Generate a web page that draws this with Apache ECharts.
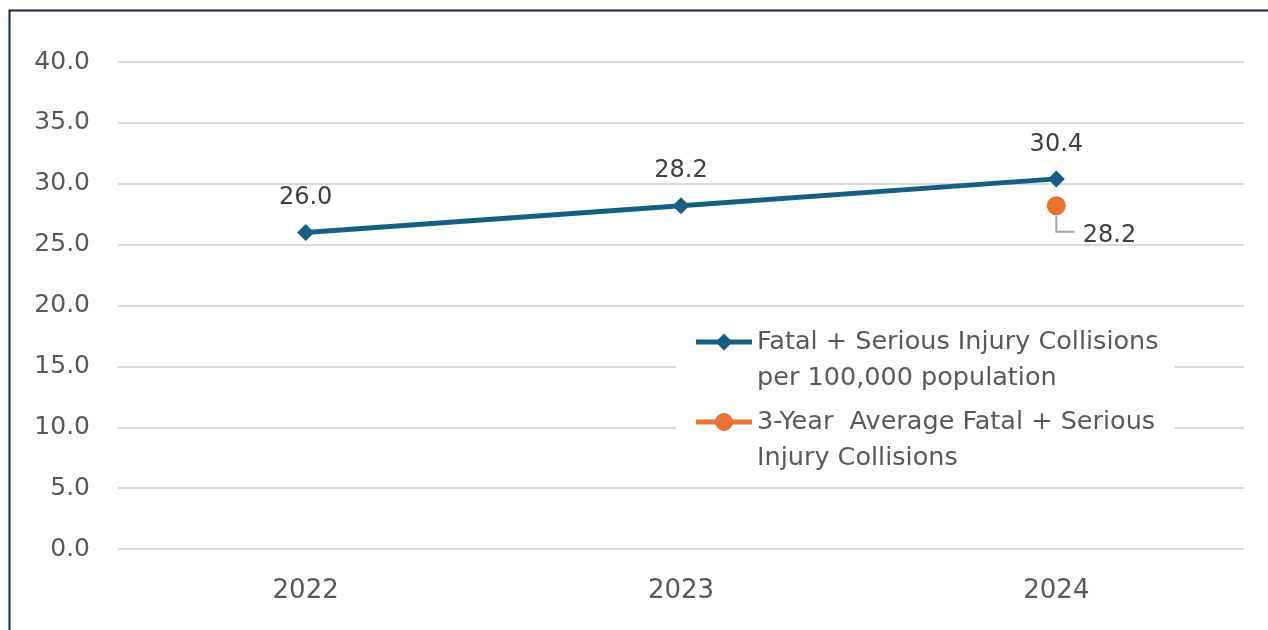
<!DOCTYPE html>
<html><head><meta charset="utf-8">
<script src="https://cdn.jsdelivr.net/npm/echarts@6/dist/echarts.min.js"></script>
<style>html,body{margin:0;padding:0;background:#fff}#c{width:1268px;height:630px}</style>
</head><body><div id="c"></div>
<script>
const categories = ['2022', '2023', '2024'];
const fsiRate = [26.0, 28.2, 30.4];
const threeYearAvg = [null, null, 28.2];
const seriesNames = ['Fatal + Serious Injury Collisions\nper 100,000 population', '3-Year  Average Fatal + Serious\nInjury Collisions'];

// legend icons: line + marker placed at the first text line (56 x 72 box)
const BOX = 'M0 0h0.01v0.01h-0.01z M55.99 71.99h0.01v0.01h-0.01z ';
const ICON_DIAMOND = 'path://' + BOX + 'M0 15.5H56V20.5H0Z M28 9.5L36.5 18L28 26.5L19.5 18Z';
const ICON_CIRCLE = 'path://' + BOX + 'M0 15.5H20V20.5H0Z M36 15.5H56V20.5H36Z M19 18A9 9 0 1 1 37 18A9 9 0 1 1 19 18Z';

const chart = echarts.init(document.getElementById('c'), null, {renderer: 'canvas'});
const FONT = '"DejaVu Sans", sans-serif';
chart.setOption({
  animation: false,
  textStyle: {fontFamily: FONT},
  graphic: [{type: 'rect', left: 7, top: 8, shape: {width: 1400, height: 800}, style: {fill: 'none', stroke: '#0E2841', lineWidth: 2}, silent: true, z: 100}],
  grid: {left: 118, right: 24, top: 62, bottom: 81},
  xAxis: {
    type: 'category', data: categories,
    axisLine: {show: false}, axisTick: {show: false},
    axisLabel: {fontSize: 26, color: '#595959', margin: 29, fontFamily: FONT}
  },
  yAxis: {
    type: 'value', min: 0, max: 40, interval: 5,
    axisLabel: {fontSize: 25, color: '#595959', margin: 28, formatter: v => v.toFixed(1), fontFamily: FONT},
    splitLine: {lineStyle: {color: '#D9D9D9', width: 2}}
  },
  legend: {
    left: 676, top: 322, orient: 'vertical',
    backgroundColor: '#fff', padding: [2, 16, 1, 20],
    itemWidth: 56, itemHeight: 72, itemGap: 8,
    symbolKeepAspect: false,
    textStyle: {fontSize: 25.5, color: '#595959', lineHeight: 36, fontFamily: FONT},
    data: [
      {name: seriesNames[0], icon: ICON_DIAMOND},
      {name: seriesNames[1], icon: ICON_CIRCLE}
    ]
  },
  series: [
    {
      name: seriesNames[0], type: 'line', data: fsiRate,
      symbol: 'diamond', symbolSize: 17,
      lineStyle: {color: '#156082', width: 5},
      itemStyle: {color: '#156082'},
      label: {show: true, position: 'top', distance: 14, fontSize: 24, color: '#404040', formatter: p => p.value.toFixed(1)}
    },
    {
      name: seriesNames[1], type: 'line', data: threeYearAvg,
      symbol: 'circle', symbolSize: 19,
      lineStyle: {color: '#E97132', width: 5},
      itemStyle: {color: '#E97132'},
      label: {show: true, position: 'right', distance: 0, fontSize: 24, color: '#404040', formatter: p => p.value.toFixed(1)},
      labelLayout: {dx: 17, dy: 30}
    },
    {
      type: 'custom', silent: true, z: 1,
      data: threeYearAvg.map((v, i) => [i, v]).filter(d => d[1] != null),
      renderItem: (params, api) => {
        const p = api.coord([api.value(0), api.value(1)]);
        return {
          type: 'polyline',
          shape: {points: [[p[0], p[1] + 10], [p[0], p[1] + 26], [p[0] + 18, p[1] + 26]]},
          style: {stroke: '#A6A6A6', lineWidth: 2, fill: 'none'}
        };
      }
    }
  ]
});
</script></body></html>
